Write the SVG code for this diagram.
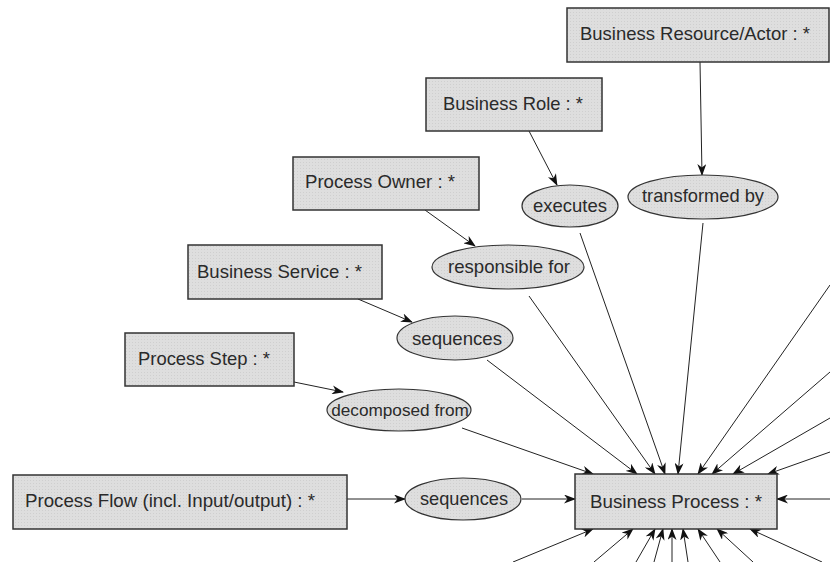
<svg xmlns="http://www.w3.org/2000/svg" width="830" height="562" viewBox="0 0 830 562">
<defs>
<pattern id="dots" width="3" height="3" patternUnits="userSpaceOnUse">
<rect width="3" height="3" fill="#dedede"/>
<rect x="0" y="0" width="1" height="1" fill="#cfcfcf"/>
</pattern>
<marker id="ah" markerWidth="12" markerHeight="9" refX="11" refY="4.5" orient="auto" markerUnits="userSpaceOnUse">
<path d="M0,0 L12,4.5 L0,9 L3.5,4.5 z" fill="#111"/>
</marker>
</defs>
<style>
.box{fill:url(#dots);stroke:#333;stroke-width:1.5}
.ell{fill:url(#dots);stroke:#333;stroke-width:1.2}
.t{font-family:"Liberation Sans",Arial,sans-serif;font-size:18.6px;fill:#2a2a2a;text-anchor:middle}
.c line{stroke:#222;stroke-width:1;marker-end:url(#ah)}
</style>
<rect width="830" height="562" fill="#fff"/>
<g class="c" id="connectors">
<line x1="700" y1="62" x2="702" y2="175"/>
<line x1="529" y1="131" x2="557" y2="185"/>
<line x1="425" y1="210" x2="475" y2="246"/>
<line x1="358" y1="299" x2="412" y2="322"/>
<line x1="294" y1="382" x2="343" y2="392"/>
<line x1="347" y1="499" x2="405" y2="499"/>
<line x1="522" y1="499" x2="575" y2="499"/>
<line x1="462" y1="428" x2="593" y2="474"/>
<line x1="487" y1="360" x2="637" y2="474"/>
<line x1="529" y1="296" x2="655" y2="474"/>
<line x1="580" y1="233" x2="665" y2="474"/>
<line x1="703" y1="223" x2="678" y2="474"/>
<line x1="830" y1="285" x2="698" y2="474"/>
<line x1="830" y1="372" x2="712" y2="474"/>
<line x1="830" y1="418" x2="733" y2="474"/>
<line x1="830" y1="452" x2="768" y2="474"/>
<line x1="830" y1="499" x2="777" y2="499"/>
<line x1="513" y1="562" x2="593" y2="529"/>
<line x1="594" y1="562" x2="633" y2="529"/>
<line x1="636" y1="562" x2="655" y2="529"/>
<line x1="654" y1="562" x2="663" y2="529"/>
<line x1="672" y1="562" x2="672" y2="529"/>
<line x1="688" y1="562" x2="683" y2="529"/>
<line x1="720" y1="562" x2="698" y2="529"/>
<line x1="753" y1="562" x2="717" y2="529"/>
<line x1="822" y1="562" x2="750" y2="529"/>
</g>
<g id="business-resource-actor"><rect class="box" x="567" y="8" width="262" height="54"/><text class="t" x="695" y="40" textLength="230" lengthAdjust="spacingAndGlyphs">Business Resource/Actor : *</text></g>
<g id="business-role"><rect class="box" x="426" y="78" width="176" height="53"/><text class="t" x="513" y="110" textLength="140" lengthAdjust="spacingAndGlyphs">Business Role : *</text></g>
<g id="process-owner"><rect class="box" x="293" y="157" width="186" height="53"/><text class="t" x="380" y="188" textLength="150" lengthAdjust="spacingAndGlyphs">Process Owner : *</text></g>
<g id="business-service"><rect class="box" x="188" y="245" width="194" height="54"/><text class="t" x="279.5" y="278" textLength="165" lengthAdjust="spacingAndGlyphs">Business Service : *</text></g>
<g id="process-step"><rect class="box" x="125" y="333" width="169" height="53"/><text class="t" x="204" y="365" textLength="132" lengthAdjust="spacingAndGlyphs">Process Step : *</text></g>
<g id="process-flow"><rect class="box" x="13" y="475" width="334" height="54"/><text class="t" x="170" y="507" textLength="290" lengthAdjust="spacingAndGlyphs">Process Flow (incl. Input/output) : *</text></g>
<g id="business-process"><rect class="box" x="575" y="474" width="202" height="55"/><text class="t" x="676" y="508" textLength="172" lengthAdjust="spacingAndGlyphs">Business Process : *</text></g>
<g id="executes"><ellipse class="ell" cx="570" cy="206" rx="48" ry="21"/><text class="t" x="570" y="212" textLength="74" lengthAdjust="spacingAndGlyphs">executes</text></g>
<g id="transformed-by"><ellipse class="ell" cx="703" cy="197" rx="75" ry="22"/><text class="t" x="703" y="202" textLength="122" lengthAdjust="spacingAndGlyphs">transformed by</text></g>
<g id="responsible-for"><ellipse class="ell" cx="508" cy="267" rx="76" ry="22"/><text class="t" x="509" y="273" textLength="122" lengthAdjust="spacingAndGlyphs">responsible for</text></g>
<g id="sequences-1"><ellipse class="ell" cx="455" cy="338" rx="58" ry="22"/><text class="t" x="457" y="345" textLength="90" lengthAdjust="spacingAndGlyphs">sequences</text></g>
<g id="decomposed-from"><ellipse class="ell" cx="399" cy="410" rx="72" ry="21"/><text class="t" x="400" y="416" style="font-size:17.2px">decomposed from</text></g>
<g id="sequences-2"><ellipse class="ell" cx="463" cy="499" rx="58" ry="21"/><text class="t" x="464" y="505" textLength="88" lengthAdjust="spacingAndGlyphs">sequences</text></g>
</svg>
